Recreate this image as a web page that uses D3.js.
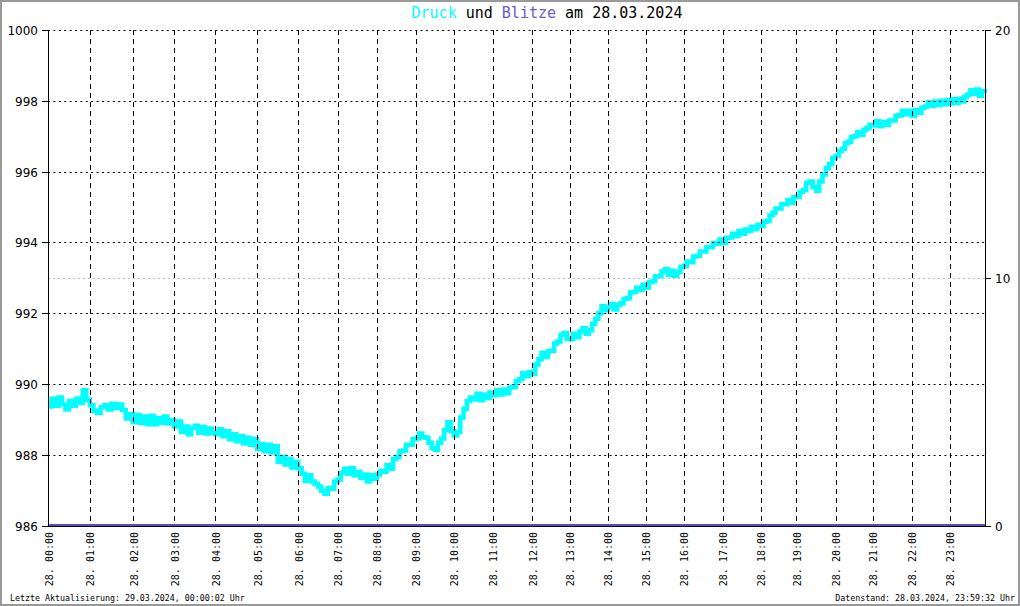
<!DOCTYPE html>
<html><head><meta charset="utf-8">
<script src="https://cdn.jsdelivr.net/npm/d3@7"></script>
<style>html,body{margin:0;padding:0;background:#fff}svg{display:block}</style>
</head><body>
<svg id="chart" width="1020" height="606"></svg>
<script>
// ---- data ----
const title = "28.03.2024";
const hourLabels = ["28. 00:00","28. 01:00","28. 02:00","28. 03:00","28. 04:00","28. 05:00","28. 06:00","28. 07:00","28. 08:00","28. 09:00","28. 10:00","28. 11:00","28. 12:00","28. 13:00","28. 14:00","28. 15:00","28. 16:00","28. 17:00","28. 18:00","28. 19:00","28. 20:00","28. 21:00","28. 22:00","28. 23:00"];
// number of readings received in each hour (x axis is reading-index based)
const readingsPerHour = [63,65,62,62,63,62,59,59,59,57,59,59,57,57,57,57,59,57,54,59,56,59,57,53];
const pressureTicks = [986,988,990,992,994,996,998,1000];
const blitzTicks = [0,10,20];
// pressure (hPa), every 5 minutes from 00:00, last reading 23:59:32
const pressure = [
 989.36,989.58,989.38,989.62,989.42,989.28,989.52,989.38,989.58,989.46,989.82,989.55,
 989.40,989.24,989.18,989.34,989.40,989.28,989.44,989.32,989.42,989.26,989.02,989.14,
 988.92,989.12,988.90,989.08,988.86,989.10,988.86,989.04,988.90,989.08,988.88,988.98,
 988.80,988.94,988.64,988.80,988.58,988.76,988.82,988.62,988.78,988.60,988.74,988.62,
 988.58,988.72,988.52,988.66,988.44,988.58,988.38,988.52,988.32,988.48,988.28,988.44,
 988.16,988.30,988.10,988.28,988.06,988.24,987.80,987.94,987.72,987.88,987.64,987.80,
 987.62,987.46,987.26,987.42,987.24,987.18,987.10,986.98,986.90,987.06,987.04,987.24,
 987.30,987.48,987.60,987.46,987.62,987.42,987.52,987.34,987.44,987.24,987.42,987.32,
 987.44,987.54,987.52,987.70,987.60,987.88,987.94,988.10,988.12,988.28,988.28,988.44,
 988.46,988.60,988.50,988.48,988.34,988.20,988.14,988.34,988.46,988.70,988.92,988.68,
 988.54,988.64,989.05,989.30,989.52,989.62,989.56,989.72,989.54,989.70,989.60,989.76,
 989.68,989.82,989.70,989.84,989.74,989.90,989.92,990.08,990.14,990.30,990.22,990.34,
 990.28,990.55,990.70,990.88,990.76,990.92,990.94,991.14,991.20,991.38,991.44,991.28,
 991.26,991.42,991.32,991.48,991.58,991.42,991.52,991.70,991.84,992.00,992.20,992.08,
 992.16,992.26,992.10,992.24,992.28,992.40,992.42,992.58,992.60,992.72,992.66,992.80,
 992.72,992.88,992.90,993.04,993.04,993.18,993.24,993.08,993.20,993.06,993.16,993.30,
 993.34,993.46,993.44,993.60,993.62,993.74,993.74,993.86,993.86,993.98,993.96,994.08,
 993.98,994.12,994.14,994.24,994.18,994.32,994.24,994.36,994.32,994.44,994.38,994.50,
 994.46,994.58,994.60,994.76,994.84,994.96,994.96,995.08,995.08,995.20,995.12,995.28,
 995.28,995.42,995.48,995.68,995.72,995.56,995.46,995.72,995.92,996.10,996.22,996.38,
 996.44,996.58,996.64,996.80,996.84,996.98,997.00,997.12,997.04,997.18,997.24,997.32,
 997.30,997.42,997.28,997.40,997.32,997.44,997.44,997.58,997.60,997.72,997.62,997.72,
 997.58,997.74,997.66,997.80,997.84,997.96,997.86,997.98,997.88,998.00,997.90,998.02,
 997.92,998.04,997.94,998.06,997.98,998.12,998.18,998.30,998.20,998.32,998.14,998.28,
 998.22
];
// lightning strikes per hour
const blitze = [0,0,0,0,0,0,0,0,0,0,0,0,0,0,0,0,0,0,0,0,0,0,0,0];

// ---- layout ----
const W = 1020, H = 606;
const L = 48, R = 985, T = 30, B = 525.5;
const svg = d3.select("#chart");

const cum = [0];
readingsPerHour.forEach((c,i)=>cum.push(cum[i]+c));
const totalReadings = cum[cum.length-1];
const minuteToIndex = m => { const h = Math.min(23, Math.floor(m/60)); return cum[h] + ((m - h*60)/60)*readingsPerHour[h]; };

const x = d3.scaleLinear().domain([0,totalReadings]).range([L,R]);
const yP = d3.scaleLinear().domain([986,1000]).range([B,T]);
const yB = d3.scaleLinear().domain([0,20]).range([B,T]);

const pts = pressure.map((v,i)=>({t: i===pressure.length-1 ? 1439.53 : i*5, v}));

// frame
svg.append("rect").attr("x",1).attr("y",1).attr("width",W-2).attr("height",H-2)
  .attr("fill","#fff").attr("stroke","#999").attr("stroke-width",2);

// gray dotted line for right axis 10
svg.append("line").attr("x1",L).attr("x2",R).attr("y1",Math.round(yB(10))+0.5).attr("y2",Math.round(yB(10))+0.5)
  .attr("stroke","#bbb").attr("stroke-dasharray","2,3");

// pressure line
const line = d3.line().x(d=>x(minuteToIndex(d.t))).y(d=>yP(d.v)).curve(d3.curveStepAfter);
svg.append("path").datum(pts).attr("d",line).attr("fill","none")
  .attr("stroke","#00ffff").attr("stroke-width",4.5).attr("stroke-linejoin","miter");

// grid (front)
const g = svg.append("g");
g.selectAll("line.h").data(pressureTicks.filter(t=>t>986)).join("line")
  .attr("x1",L).attr("x2",R).attr("y1",d=>Math.round(yP(d))+0.5).attr("y2",d=>Math.round(yP(d))+0.5)
  .attr("stroke","#000").attr("stroke-dasharray","2,3.4");
g.selectAll("line.v").data(d3.range(1,24)).join("line")
  .attr("x1",d=>Math.round(x(cum[d]))+0.5).attr("x2",d=>Math.round(x(cum[d]))+0.5)
  .attr("y1",T).attr("y2",B)
  .attr("stroke","#000").attr("stroke-dasharray","5,4");

// blitze line at bottom
svg.append("path").datum(blitze.concat([0])).attr("d",d3.line().x((d,i)=>x(cum[i])).y(d=>yB(d)-0.5))
  .attr("fill","none").attr("stroke","#5b4fc0").attr("stroke-width",2);
svg.append("line").attr("x1",L).attr("x2",R).attr("y1",B+1).attr("y2",B+1).attr("stroke","#000").attr("stroke-width",1);

// axes lines
svg.append("line").attr("x1",L+0.5).attr("x2",L+0.5).attr("y1",T).attr("y2",B+1).attr("stroke","#000");
svg.append("line").attr("x1",R+0.5).attr("x2",R+0.5).attr("y1",T).attr("y2",B+1).attr("stroke","#000");

// left ticks + labels
const lf = "DejaVu Sans, Verdana, sans-serif";
pressureTicks.forEach(t=>{
  const yy = Math.round(yP(t))+0.5;
  svg.append("line").attr("x1",L-6).attr("x2",L).attr("y1",yy).attr("y2",yy).attr("stroke","#000");
  svg.append("text").attr("x",38).attr("y",yy).attr("dy","0.36em").attr("text-anchor","end")
    .attr("font-family",lf).attr("font-size",12).attr("fill","#000").text(t);
});
// right ticks + labels
blitzTicks.forEach(t=>{
  const yy = Math.round(yB(t))+0.5;
  svg.append("line").attr("x1",R).attr("x2",R+6).attr("y1",yy).attr("y2",yy).attr("stroke","#000");
  svg.append("text").attr("x",995).attr("y",yy).attr("dy","0.36em").attr("text-anchor","start")
    .attr("font-family",lf).attr("font-size",12).attr("fill","#000").text(t);
});

// x labels
const mf = "DejaVu Sans Mono, monospace";
hourLabels.forEach((lab,i)=>{
  const xx = x(cum[i]) + 1;
  svg.append("text").attr("transform",`translate(${xx},532) rotate(-90)`)
    .attr("text-anchor","end").attr("dy","0.35em")
    .attr("font-family",mf).attr("font-size",10).attr("fill","#000").text(lab);
});

// title
const tt = svg.append("text").attr("x",547).attr("y",18).attr("text-anchor","middle")
  .attr("font-family",mf).attr("font-size",15).attr("fill","#000");
tt.append("tspan").attr("fill","#00ffff").text("Druck");
tt.append("tspan").text(" und ");
tt.append("tspan").attr("fill","#6a5acd").text("Blitze");
tt.append("tspan").text(" am " + title);

// footer
svg.append("text").attr("x",10).attr("y",601).attr("font-family",mf).attr("font-size",8.3)
  .attr("fill","#000").text("Letzte Aktualisierung: 29.03.2024, 00:00:02 Uhr");
svg.append("text").attr("x",1015).attr("y",601).attr("text-anchor","end").attr("font-family",mf).attr("font-size",8.3)
  .attr("fill","#000").text("Datenstand: 28.03.2024, 23:59:32 Uhr");
</script>
</body></html>
